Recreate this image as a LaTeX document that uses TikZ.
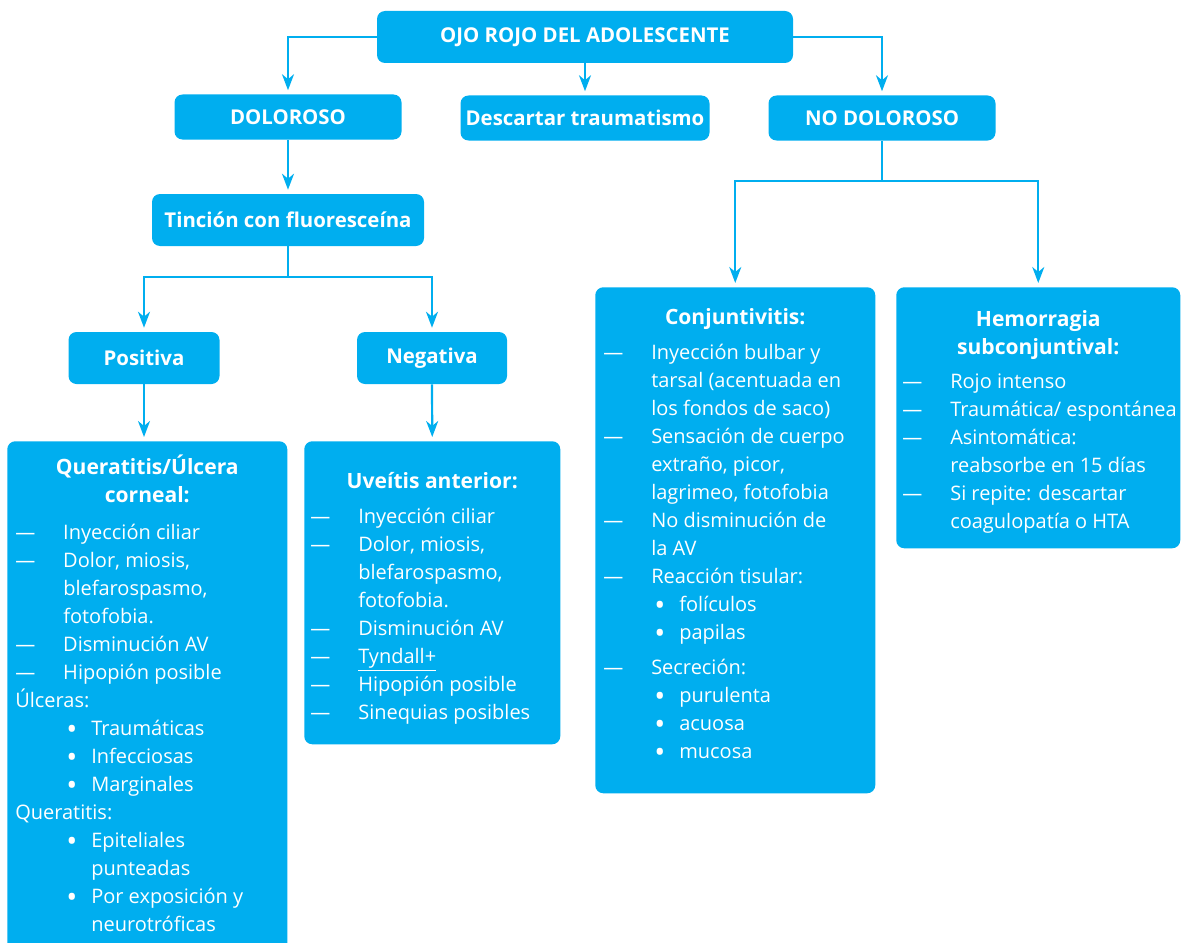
\documentclass[tikz,border=0pt]{standalone}
\usepackage{fontspec}
\setmainfont{Open Sans}
\usepackage{xcolor}
\definecolor{cCyan}{HTML}{00AEEF}
\usetikzlibrary{positioning,arrows.meta}
\newlength\px
\setlength\px{0.75pt}
% lines inside the list boxes
\newcommand{\bigdot}{\smash{\raisebox{-3.2pt}{\fontsize{22pt}{21pt}\selectfont•}}}
\newcommand{\lnDash}[1]{\makebox[48\px][l]{—}#1\par}
\newcommand{\lnCont}[1]{\hspace*{48\px}#1\par}
\newcommand{\lnBullet}[1]{\hspace*{51\px}\makebox[25\px][l]{\bigdot}#1\par}
\newcommand{\lnBulletCont}[1]{\hspace*{76\px}#1\par}
\newcommand{\bodyset}{\fontsize{15pt}{21pt}\selectfont\raggedright\leftskip=8\px\parindent=0pt}
\newcommand{\boxtitle}[2]{{\centering\fontsize{15.8pt}{21pt}\selectfont\bfseries\rule{0pt}{#1}#2\par}}
\tikzset{
  node-head/.style={fill=cCyan,rounded corners=6pt,text=white,inner sep=0pt,
    align=center,font=\fontsize{15.3pt}{18pt}\selectfont\bfseries},
  node-list/.style={fill=cCyan,rounded corners=6pt,text=white,inner sep=0pt,
    anchor=north west},
  arrow/.style={-{Stealth[length=12pt,width=9pt,inset=3.75pt]},line width=1.65pt,
    draw=cCyan,shorten >=3pt},
  link/.style={line width=1.65pt,draw=cCyan},
}

\begin{document}
\begin{tikzpicture}[x=0.75pt,y=-0.75pt]
  \useasboundingbox (0,0) rectangle (1181,942);
  % header boxes
  \node[node-head,minimum width=416\px,minimum height=52\px] (ojo)   at (585,37)  {OJO ROJO DEL ADOLESCENTE};
  \node[node-head,minimum width=227\px,minimum height=45\px] (dol)   at (288,117) {DOLOROSO};
  \node[node-head,minimum width=249\px,minimum height=45\px] (desc)  at (585,118) {Descartar traumatismo};
  \node[node-head,minimum width=227\px,minimum height=45\px] (nodol) at (882,118) {NO DOLOROSO};
  \node[node-head,minimum width=272\px,minimum height=52\px] (tinc)  at (288,220) {Tinción con fluoresceína};
  \node[node-head,minimum width=151\px,minimum height=52\px] (pos)   at (144,358) {Positiva};
  \node[node-head,minimum width=150\px,minimum height=52\px] (neg)   at (432,358) {Negativa};
  % list boxes
  \node[node-list] (quer) at (7,441) {\parbox[t][530\px][t]{280\px}{\bodyset
    \boxtitle{33\px}{Queratitis/Úlcera\\corneal:}\vspace{9\px}
    \lnDash{Inyección ciliar}
    \lnDash{Dolor, miosis,}
    \lnCont{blefarospasmo,}
    \lnCont{fotofobia.}
    \lnDash{Disminución AV}
    \lnDash{Hipopión posible}
    Úlceras:\par
    \lnBullet{Traumáticas}
    \lnBullet{Infecciosas}
    \lnBullet{Marginales}
    Queratitis:\par
    \lnBullet{Epiteliales}
    \lnBulletCont{punteadas}
    \lnBullet{Por exposición y}
    \lnBulletCont{neurotróficas}}};
  \node[node-list] (uvea) at (304,441) {\parbox[t][303\px][t]{256\px}{\bodyset\leftskip=6\px
    \boxtitle{47\px}{Uveítis anterior:}\vspace{7\px}
    \lnDash{Inyección ciliar}
    \lnDash{Dolor, miosis,}
    \lnCont{blefarospasmo,}
    \lnCont{fotofobia.}
    \lnDash{Disminución AV}
    \lnDash{\underline{Tyndall+}}
    \lnDash{Hipopión posible}
    \lnDash{Sinequias posibles}}};
  \node[node-list] (conj) at (595,287) {\parbox[t][506\px][t]{280\px}{\bodyset
    \boxtitle{37\px}{Conjuntivitis:}\vspace{7\px}
    \lnDash{Inyección bulbar y}
    \lnCont{tarsal (acentuada en}
    \lnCont{los fondos de saco)}
    \lnDash{Sensación de cuerpo}
    \lnCont{extraño, picor,}
    \lnCont{lagrimeo, fotofobia}
    \lnDash{No disminución de}
    \lnCont{la AV}
    \lnDash{Reacción tisular:}
    \lnBullet{folículos}
    \lnBullet{papilas}
    \vspace{7\px}
    \lnDash{Secreción:}
    \lnBullet{purulenta}
    \lnBullet{acuosa}
    \lnBullet{mucosa}}};
  \node[node-list] (hem) at (896,287) {\parbox[t][261\px][t]{284\px}{\bodyset\leftskip=6\px
    \boxtitle{39\px}{Hemorragia\\subconjuntival:}\vspace{6\px}
    \lnDash{Rojo intenso}
    \lnDash{Traumática/ espontánea}
    \lnDash{Asintomática:}
    \lnCont{reabsorbe en 15 días}
    \lnDash{Si repite: descartar}
    \lnCont{coagulopatía o HTA}}};
  % connectors
  \coordinate (tsplit) at (288,277);
  \coordinate (nsplit) at (882,181);
  \draw[arrow] (ojo.west) -| (dol.north);
  \draw[arrow] (ojo.east) -| (nodol.north);
  \draw[arrow] (ojo.south) -- (desc.north);
  \draw[arrow] (dol.south) -- (tinc.north);
  \draw[link] (tinc.south) -- (tsplit);
  \draw[arrow] (tsplit) -| (pos.north);
  \draw[arrow] (tsplit) -| (neg.north);
  \draw[arrow] (pos.south) -- (pos.south |- quer.north);
  \draw[arrow] (neg.south) -- (uvea.north);
  \draw[link] (nodol.south) -- (nsplit);
  \draw[arrow] (nsplit) -| (conj.north);
  \draw[arrow] (nsplit) -| (hem.north);
\end{tikzpicture}
\end{document}
